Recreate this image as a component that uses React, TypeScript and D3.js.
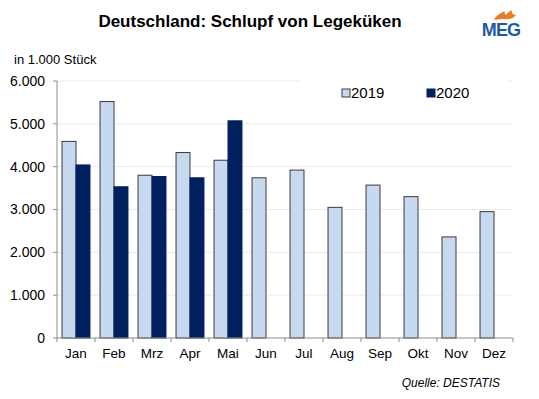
import React from "react";
import * as d3 from "d3";

const months = ["Jan", "Feb", "Mrz", "Apr", "Mai", "Jun", "Jul", "Aug", "Sep", "Okt", "Nov", "Dez"];
const values2019 = [4590, 5520, 3800, 4330, 4150, 3740, 3920, 3050, 3570, 3300, 2360, 2950];
const values2020 = [4040, 3530, 3770, 3740, 5070];
const series = ["2019", "2020"];
const yTicks = [0, 1000, 2000, 3000, 4000, 5000, 6000];

const W = 539, H = 399;
const margin = { left: 57, right: 26, top: 81, bottom: 61 };
const colors = ["#c6d9f1", "#002060"];
const font = "Liberation Sans, Arial, sans-serif";

const fmt = (v: number) => d3.format(",")(v).replace(/,/g, ".");

export default function App() {
  const x0 = d3.scaleBand<string>().domain(months).range([margin.left, W - margin.right]).paddingInner(0).paddingOuter(0);
  const x1 = d3.scaleBand<string>().domain(series).range([0, x0.bandwidth()]).paddingInner(0).paddingOuter(0.36);
  const y = d3.scaleLinear().domain([0, 6000]).range([H - margin.bottom, margin.top]);
  const bottom = H - margin.bottom;
  const data = [values2019, values2020];
  const tickXs = months.map((m) => x0(m)!).concat([W - margin.right]);

  return (
    <svg width={W} height={H} style={{ position: "absolute", left: 0, top: 0, background: "#fff" }} fontFamily={font}>
      <rect width={W} height={H} fill="#fff" />
      {/* gridlines */}
      {yTicks.slice(1).map((t) => (
        <line key={t} x1={margin.left} x2={W - margin.right} y1={y(t)} y2={y(t)} stroke="#ebebeb" strokeWidth={1} />
      ))}
      {/* legend background */}
      <rect x={300} y={76} width={208} height={30} fill="#fff" />
      {/* bars */}
      {data.map((vals, si) =>
        vals.map((v, i) => (
          <rect
            key={`${si}-${i}`}
            x={x0(months[i])! + x1(series[si])!}
            y={y(v)}
            width={x1.bandwidth()}
            height={bottom - y(v)}
            fill={colors[si]}
            stroke={si === 0 ? "#3a3a3a" : "#002060"}
            strokeWidth={1}
          />
        ))
      )}
      {/* y axis */}
      <line x1={margin.left} x2={margin.left} y1={margin.top} y2={bottom} stroke="#8c8c8c" />
      {yTicks.map((t) => (
        <g key={t}>
          <line x1={margin.left - 4} x2={margin.left} y1={y(t)} y2={y(t)} stroke="#8c8c8c" />
          <text x={45} y={y(t)} dy="0.35em" textAnchor="end" fontSize={14} fill="#000">{fmt(t)}</text>
        </g>
      ))}
      {/* x axis */}
      <line x1={margin.left} x2={W - margin.right} y1={bottom} y2={bottom} stroke="#8c8c8c" />
      {tickXs.map((tx, i) => (
        <line key={i} x1={tx} x2={tx} y1={bottom} y2={bottom + 4} stroke="#8c8c8c" />
      ))}
      {months.map((m) => (
        <text key={m} x={x0(m)! + x0.bandwidth() / 2} y={358} textAnchor="middle" fontSize={13.5} fill="#000">{m}</text>
      ))}
      {/* legend */}
      {series.map((s, i) => (
        <g key={s}>
          <rect x={[342, 427][i]} y={89} width={8} height={8} fill={colors[i]} stroke={i === 0 ? "#3a3a3a" : "#002060"} />
          <text x={[351, 436][i]} y={98} fontSize={15} fill="#000">{s}</text>
        </g>
      ))}
      {/* title */}
      <text x={250} y={27} textAnchor="middle" fontSize={17} fontWeight="bold" fill="#000">Deutschland: Schlupf von Legeküken</text>
      <text x={14} y={64} fontSize={13} fill="#000">in 1.000 Stück</text>
      <text x={500} y={387} textAnchor="end" fontSize={12} fontStyle="italic" fill="#000">Quelle: DESTATIS</text>
      {/* logo */}
      <path d="M494,20 C496,15 501,13 505,11 C504,14 505,15 507,14 C508,12 510,11 512,10 C511,13 513,15 516,15 C514,18 510,19 507,19 C503,19 498,19 494,20 Z" fill="#ee7a22" />
      <text x={501} y={36} textAnchor="middle" fontSize={18} fontWeight="bold" fill="#1a5aa6" letterSpacing={-0.8}>MEG</text>
    </svg>
  );
}
